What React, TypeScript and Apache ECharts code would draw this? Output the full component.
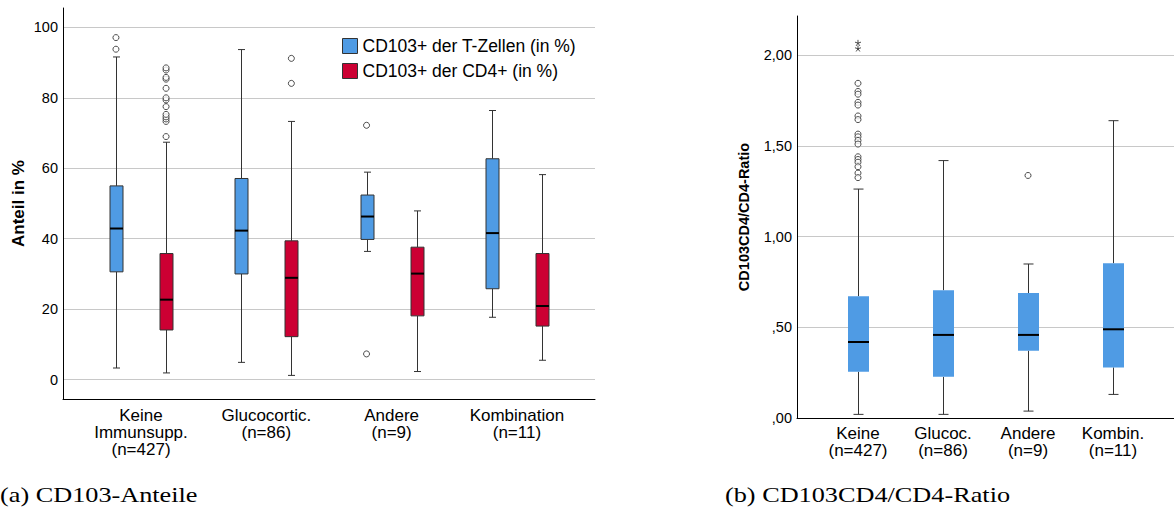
import React, { useEffect, useRef } from 'react';
import * as echarts from 'echarts';

// ---- (a) CD103-Anteile ----
const anteilCategories = ['Keine\nImmunsupp.\n(n=427)', 'Glucocortic.\n(n=86)', 'Andere\n(n=9)', 'Kombination\n(n=11)'];
const anteilTicks = [0, 20, 40, 60, 80, 100];
// [min, Q1, median, Q3, max] per category
const tZellenBox = [
  [3.3, 30.6, 42.9, 55.0, 91.6],
  [4.9, 30.0, 42.3, 57.1, 93.7],
  [36.4, 39.8, 46.3, 52.4, 58.9],
  [17.7, 25.8, 41.6, 62.7, 76.4],
];
const cd4Box = [
  [1.9, 14.1, 22.7, 35.8, 67.4],
  [1.2, 12.2, 28.9, 39.4, 73.3],
  [2.3, 18.1, 30.1, 37.6, 47.9],
  [5.5, 15.2, 20.9, 35.8, 58.2],
];
// [category index, value]
const tZellenOutliers = [[0, 97.1], [0, 93.8], [2, 72.2], [2, 7.3]];
const cd4Outliers = [
  [0, 69.0], [0, 73.3], [0, 74.0], [0, 74.6], [0, 75.3], [0, 77.5], [0, 79.4],
  [0, 80.0], [0, 82.7], [0, 85.3], [0, 85.8], [0, 87.9], [0, 88.5],
  [1, 84.1], [1, 91.2],
];

// ---- (b) CD103CD4/CD4-Ratio ----
const ratioCategories = ['Keine\n(n=427)', 'Glucoc.\n(n=86)', 'Andere\n(n=9)', 'Kombin.\n(n=11)'];
const ratioTicks = [0, 0.5, 1, 1.5, 2];
const ratioTickLabels = [',00', ',50', '1,00', '1,50', '2,00'];
const ratioBox = [
  [0.02, 0.255, 0.419, 0.671, 1.262],
  [0.02, 0.227, 0.458, 0.704, 1.419],
  [0.038, 0.371, 0.458, 0.689, 0.849],
  [0.13, 0.279, 0.489, 0.853, 1.639],
];
const ratioOutliers = [
  [0, 1.845], [0, 1.8], [0, 1.785], [0, 1.74], [0, 1.725], [0, 1.665], [0, 1.645],
  [0, 1.565], [0, 1.55], [0, 1.53], [0, 1.51], [0, 1.44], [0, 1.425], [0, 1.41],
  [0, 1.385], [0, 1.35], [0, 1.325],
  [2, 1.337],
];
const ratioExtremes = [[0, 2.068], [0, 2.037]];

const BLUE = '#4f9be4';
const RED = '#cc0033';
const FONT = '"Liberation Sans", Arial, sans-serif';
const SERIF = '"Liberation Serif", "Times New Roman", serif';
const GRID_COLOR = '#c8c8c8';
const STAR_PATH =
  'path://M5,5L5,0M5,5L9.755,3.455M5,5L7.939,9.045M5,5L2.061,9.045M5,5L0.245,3.455';

type BoxStyle = { fill: string; stroke: string | null; half: number; cap: number; whisker: string };

function boxRenderer(s: BoxStyle) {
  return (_params: any, api: any) => {
    const x = api.value(0);
    const pMin = api.coord([x, api.value(1)]);
    const pQ1 = api.coord([x, api.value(2)]);
    const pMed = api.coord([x, api.value(3)]);
    const pQ3 = api.coord([x, api.value(4)]);
    const pMax = api.coord([x, api.value(5)]);
    const cx = Math.round(pMin[0]) + 0.5;
    const wl = { stroke: s.whisker, lineWidth: 1 };
    return {
      type: 'group',
      children: [
        { type: 'line', shape: { x1: cx, y1: pMax[1], x2: cx, y2: pQ3[1] }, style: wl },
        { type: 'line', shape: { x1: cx, y1: pQ1[1], x2: cx, y2: pMin[1] }, style: wl },
        { type: 'line', shape: { x1: cx - s.cap, y1: pMax[1], x2: cx + s.cap, y2: pMax[1] }, style: wl },
        { type: 'line', shape: { x1: cx - s.cap, y1: pMin[1], x2: cx + s.cap, y2: pMin[1] }, style: wl },
        {
          type: 'rect',
          shape: { x: cx - s.half, y: pQ3[1], width: s.half * 2, height: pQ1[1] - pQ3[1] },
          style: s.stroke
            ? { fill: s.fill, stroke: s.stroke, lineWidth: 1 }
            : { fill: s.fill },
        },
        {
          type: 'line',
          shape: { x1: cx - s.half, y1: pMed[1], x2: cx + s.half, y2: pMed[1] },
          style: { stroke: '#000', lineWidth: 2 },
        },
      ],
    };
  };
}

const boxData = (rows: number[][], offset: number) => rows.map((r, i) => [i + 1 + offset, ...r]);
const pointData = (rows: number[][], offset: number) => rows.map(([i, v]) => [i + 1 + offset, v]);

const outlierStyle = { color: '#fff', borderColor: '#222', borderWidth: 1 };

const tZellenName = 'CD103+ der T-Zellen (in %)';
const cd4Name = 'CD103+ der CD4+ (in %)';

function buildOption() {
  return {
    animation: false,
    backgroundColor: '#fff',
    textStyle: { fontFamily: FONT },
    grid: [
      { left: 63, top: 8, width: 532, height: 391, outerBoundsMode: 'none' },
      { left: 797, top: 16, width: 377, height: 402, outerBoundsMode: 'none' },
    ],
    legend: {
      left: 342,
      top: 37,
      orient: 'vertical',
      padding: 0,
      itemWidth: 15,
      itemHeight: 15,
      itemGap: 7,
      selectedMode: false,
      textStyle: { fontSize: 17.5, color: '#000', fontFamily: FONT, lineHeight: 15 },
      data: [
        { name: tZellenName, icon: 'rect', itemStyle: { color: BLUE, borderColor: '#333', borderWidth: 1 } },
        { name: cd4Name, icon: 'rect', itemStyle: { color: RED, borderColor: '#333', borderWidth: 1 } },
      ],
    },
    xAxis: [
      {
        gridIndex: 0,
        type: 'value',
        min: 0.3775,
        max: 4.6233,
        axisLine: { show: true, onZero: false, lineStyle: { color: '#000', width: 1 } },
        axisTick: { show: false },
        splitLine: { show: false },
        axisLabel: {
          customValues: [1, 2, 3, 4],
          formatter: (v: number) => anteilCategories[Math.round(v) - 1] ?? '',
          fontSize: 17,
          lineHeight: 17,
          color: '#000',
          margin: 8,
        },
      },
      {
        gridIndex: 1,
        type: 'value',
        min: 0.2824,
        max: 4.7176,
        axisLine: { show: true, onZero: false, lineStyle: { color: '#000', width: 1 } },
        axisTick: { show: false },
        splitLine: { show: false },
        axisLabel: {
          customValues: [1, 2, 3, 4],
          formatter: (v: number) => ratioCategories[Math.round(v) - 1] ?? '',
          fontSize: 17,
          lineHeight: 17,
          color: '#000',
          margin: 7,
        },
      },
    ],
    yAxis: [
      {
        gridIndex: 0,
        type: 'value',
        min: -5.5,
        max: 105.5,
        name: 'Anteil in %',
        nameLocation: 'middle',
        nameGap: 36,
        nameTextStyle: { fontSize: 17, fontWeight: 'bold', color: '#000' },
        axisLine: { show: true, onZero: false, lineStyle: { color: '#000', width: 1 } },
        axisTick: { show: false, customValues: anteilTicks },
        axisLabel: { customValues: anteilTicks, fontSize: 14.5, color: '#000', margin: 5 },
        splitLine: { show: true, lineStyle: { color: GRID_COLOR, width: 1 } },
      },
      {
        gridIndex: 1,
        type: 'value',
        min: 0,
        max: 2.216,
        name: 'CD103CD4/CD4-Ratio',
        nameLocation: 'middle',
        nameGap: 46,
        nameTextStyle: { fontSize: 14.5, fontWeight: 'bold', color: '#000' },
        axisLine: { show: true, onZero: false, lineStyle: { color: '#000', width: 1 } },
        axisTick: { show: false, customValues: ratioTicks },
        axisLabel: {
          customValues: ratioTicks,
          formatter: (v: number) => ratioTickLabels[ratioTicks.indexOf(v)] ?? '',
          fontSize: 14.5,
          color: '#000',
          margin: 5,
        },
        splitLine: { show: true, lineStyle: { color: GRID_COLOR, width: 1 } },
      },
    ],
    series: [
      {
        type: 'custom',
        name: tZellenName,
        xAxisIndex: 0,
        yAxisIndex: 0,
        itemStyle: { color: BLUE },
        encode: { x: 0, y: [1, 2, 3, 4, 5] },
        data: boxData(tZellenBox, -0.2),
        renderItem: boxRenderer({ fill: BLUE, stroke: '#333', half: 6.5, cap: 3.5, whisker: '#333' }),
        silent: true,
        z: 2,
      },
      {
        type: 'custom',
        name: cd4Name,
        xAxisIndex: 0,
        yAxisIndex: 0,
        itemStyle: { color: RED },
        encode: { x: 0, y: [1, 2, 3, 4, 5] },
        data: boxData(cd4Box, 0.2),
        renderItem: boxRenderer({ fill: RED, stroke: '#333', half: 6.5, cap: 3.5, whisker: '#333' }),
        silent: true,
        z: 2,
      },
      {
        type: 'scatter',
        name: 'Ausreißer T-Zellen',
        xAxisIndex: 0,
        yAxisIndex: 0,
        symbol: 'circle',
        symbolSize: 6,
        itemStyle: outlierStyle,
        data: pointData(tZellenOutliers, -0.2),
        silent: true,
        z: 3,
      },
      {
        type: 'scatter',
        name: 'Ausreißer CD4',
        xAxisIndex: 0,
        yAxisIndex: 0,
        symbol: 'circle',
        symbolSize: 6,
        itemStyle: outlierStyle,
        data: pointData(cd4Outliers, 0.2),
        silent: true,
        z: 3,
      },
      {
        type: 'custom',
        name: 'CD103CD4/CD4-Ratio',
        xAxisIndex: 1,
        yAxisIndex: 1,
        itemStyle: { color: BLUE },
        encode: { x: 0, y: [1, 2, 3, 4, 5] },
        data: boxData(ratioBox, 0),
        renderItem: boxRenderer({ fill: BLUE, stroke: null, half: 10.5, cap: 5, whisker: '#333' }),
        silent: true,
        z: 2,
      },
      {
        type: 'scatter',
        name: 'Ausreißer Ratio',
        xAxisIndex: 1,
        yAxisIndex: 1,
        symbol: 'circle',
        symbolSize: 6,
        itemStyle: outlierStyle,
        data: pointData(ratioOutliers, 0),
        silent: true,
        z: 3,
      },
      {
        type: 'scatter',
        name: 'Extremwerte Ratio',
        xAxisIndex: 1,
        yAxisIndex: 1,
        symbol: STAR_PATH,
        symbolSize: [6, 6],
        itemStyle: { color: 'none', borderColor: '#222', borderWidth: 1 },
        data: pointData(ratioExtremes, 0),
        silent: true,
        z: 3,
      },
    ],
    graphic: [
      {
        type: 'text',
        x: 0,
        y: 484,
        scaleX: 1.25,
        style: { text: '(a) CD103-Anteile', font: `21px ${SERIF}`, fill: '#000', verticalAlign: 'top' },
      },
      {
        type: 'text',
        x: 725,
        y: 484,
        scaleX: 1.25,
        style: { text: '(b) CD103CD4/CD4-Ratio', font: `21px ${SERIF}`, fill: '#000', verticalAlign: 'top' },
      },
    ],
  };
}

export default function App() {
  const ref = useRef<HTMLDivElement>(null);
  useEffect(() => {
    if (!ref.current) return;
    const chart = echarts.init(ref.current, null, { renderer: 'svg' });
    chart.setOption(buildOption() as any);
    return () => chart.dispose();
  }, []);
  return (
    <div
      ref={ref}
      style={{ position: 'absolute', left: 0, top: 0, width: 1174, height: 513, background: '#fff' }}
    />
  );
}
